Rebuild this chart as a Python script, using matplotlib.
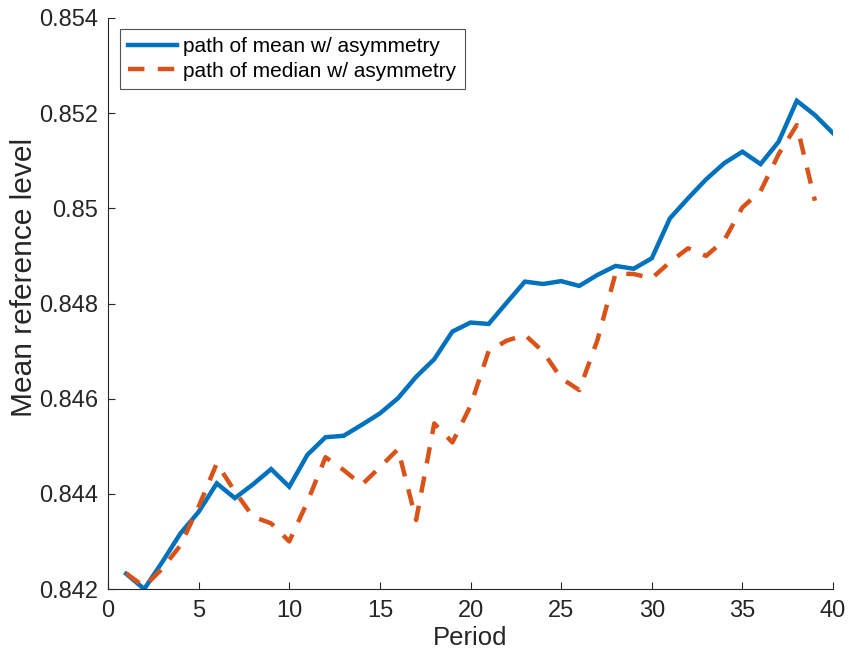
import numpy as np
import matplotlib
matplotlib.use("Agg")
import matplotlib.pyplot as plt
from matplotlib.ticker import FuncFormatter

# values
periods = np.arange(1, 41)

mean_path = [
    0.84232, 0.84200, 0.84257, 0.84317, 0.84362, 0.84422, 0.84391, 0.84420,
    0.84452, 0.84415, 0.84482, 0.84519, 0.84522, 0.84545, 0.84569, 0.84601,
    0.84646, 0.84683, 0.84741, 0.84760, 0.84757, 0.84802, 0.84846, 0.84841,
    0.84847, 0.84837, 0.84860, 0.84879, 0.84873, 0.84895, 0.84979, 0.85021,
    0.85061, 0.85095, 0.85119, 0.85093, 0.85140, 0.85226, 0.85196, 0.85158,
]

median_path = [
    0.84233, 0.84205, 0.84243, 0.84292, 0.84373, 0.84464, 0.84405, 0.84352,
    0.84338, 0.84300, 0.84383, 0.84477, 0.84450, 0.84419, 0.84456, 0.84494,
    0.84345, 0.84548, 0.84508, 0.84585, 0.84700, 0.84722, 0.84734, 0.84699,
    0.84643, 0.84618, 0.84723, 0.84863, 0.84862, 0.84853, 0.84887, 0.84916,
    0.84900, 0.84933, 0.85002, 0.85036, 0.85114, 0.85175, 0.85016, np.nan,
]

labels = ["path of mean w/ asymmetry", "path of median w/ asymmetry"]
x_ticks = np.arange(0, 41, 5)
y_ticks = np.arange(0.842, 0.8545, 0.002)

BLUE = "#0072BD"
ORANGE = "#D95319"
AXIS_GRAY = "#262626"

plt.rcParams["font.family"] = ["Liberation Sans", "DejaVu Sans"]

fig = plt.figure(figsize=(8.49, 6.59), dpi=100)
ax = fig.add_axes([0.1272, 0.1062, 0.8540, 0.8665])

ax.plot(periods, mean_path, color=BLUE, lw=3.2, label=labels[0],
        solid_joinstyle="miter")
ax.plot(periods, median_path, color=ORANGE, lw=3.2, label=labels[1],
        linestyle=(0, (3.7, 3.0)), dash_capstyle="butt")

ax.set_xlim(0, 40)
ax.set_ylim(0.842, 0.854)
ax.set_xticks(x_ticks)
ax.set_yticks(y_ticks)
ax.yaxis.set_major_formatter(FuncFormatter(lambda v, p: "%g" % round(v, 3)))

for side in ("top", "right"):
    ax.spines[side].set_visible(False)
for side in ("left", "bottom"):
    ax.spines[side].set_color(AXIS_GRAY)
    ax.spines[side].set_linewidth(0.8)

ax.tick_params(direction="in", length=5, width=0.8, colors=AXIS_GRAY,
               labelsize=17)
ax.tick_params(axis="x", pad=8)
ax.tick_params(axis="y", pad=7)

ax.set_xlabel("Period", fontsize=18.5, color=AXIS_GRAY, labelpad=3)
ax.set_ylabel("Mean reference level", fontsize=21.5, color=AXIS_GRAY)
ax.yaxis.set_label_coords(-0.097, 0.546)

leg = ax.legend(loc="upper left", bbox_to_anchor=(0.0166, 0.9807), fontsize=15,
                frameon=True, fancybox=False, handlelength=2.35,
                handletextpad=0.29, borderpad=0.4, labelspacing=0.25,
                borderaxespad=0)
leg.get_frame().set_edgecolor(AXIS_GRAY)
leg.get_frame().set_linewidth(0.8)

fig.savefig("out.png", dpi=100)
